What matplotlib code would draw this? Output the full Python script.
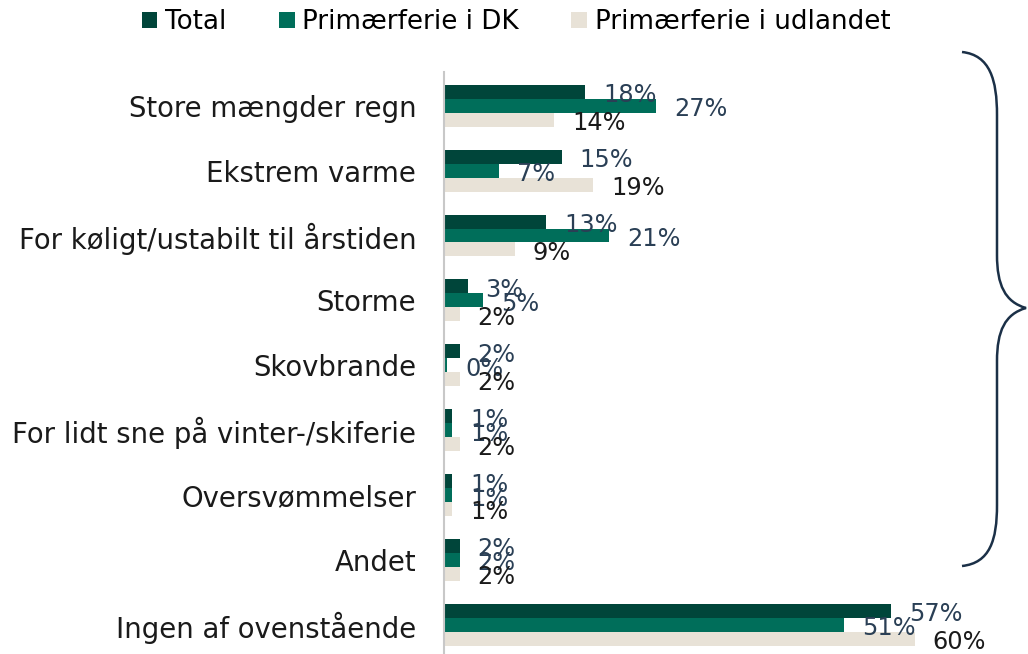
import numpy as np
import matplotlib.pyplot as plt
from matplotlib.path import Path
from matplotlib.patches import PathPatch, Patch

# Data
categories = ["Store mængder regn", "Ekstrem varme", "For køligt/ustabilt til årstiden",
              "Storme", "Skovbrande", "For lidt sne på vinter-/skiferie",
              "Oversvømmelser", "Andet", "Ingen af ovenstående"]
series_names = ["Total", "Primærferie i DK", "Primærferie i udlandet"]
total = [18, 15, 13, 3, 2, 1, 1, 2, 57]
dk = [27, 7, 21, 5, 0.4, 1, 1, 2, 51]
udland = [14, 19, 9, 2, 2, 2, 1, 2, 60]

colors = ["#00453A", "#006E5A", "#E8E2D7"]
label_colors = ["#2A3F55", "#2A3F55", "#1A1A1A"]

plt.rcParams['font.family'] = ['DejaVu Sans']

fig = plt.figure(figsize=(10.28, 6.54), dpi=100)
ax = fig.add_axes([444 / 1028, 0.0, 549 / 1028, 1 - 72 / 654])

y = np.arange(len(categories))
h = 0.215
for k, vals in enumerate([total, dk, udland]):
    pos = y + (k - 1) * h
    ax.barh(pos, vals, height=h, color=colors[k], edgecolor='none')
    for p, v in zip(pos, vals):
        ax.annotate(f"{round(v)}%", (v, p), xytext=(13, -2.5), textcoords='offset points',
                    ha='left', va='center', fontsize=17.3, color=label_colors[k])

ax.set_xlim(0, 70)
ax.set_ylim(8.45, -0.52)
ax.set_yticks(y)
ax.set_yticklabels(categories, fontsize=19.8, color="#1A1A1A")
ax.tick_params(axis='y', length=0, pad=20)
ax.set_xticks([])
for s in ['top', 'right', 'bottom']:
    ax.spines[s].set_visible(False)
ax.spines['left'].set_color("#C8C8C8")
ax.spines['left'].set_linewidth(1.5)

# legend
handles = [Patch(facecolor=c, edgecolor='none') for c in colors]
fig.legend(handles, series_names, loc='upper center', bbox_to_anchor=(0.502, 1.022),
           ncol=3, frameon=False, fontsize=18.8, handlelength=0.6, handleheight=0.6,
           handletextpad=0.3, columnspacing=2.0)

# brace on the right (pixel coords -> figure fraction)
W, H = 1028, 654
pts = [(962, 52), (990, 55), (997, 80), (997, 115),
       (997, 255),
       (997, 285), (1005, 302), (1026, 308),
       (1005, 314), (997, 331), (997, 361),
       (997, 505),
       (997, 540), (990, 563), (962, 566)]
codes = [Path.MOVETO, Path.CURVE4, Path.CURVE4, Path.CURVE4,
         Path.LINETO,
         Path.CURVE4, Path.CURVE4, Path.CURVE4,
         Path.CURVE4, Path.CURVE4, Path.CURVE4,
         Path.LINETO,
         Path.CURVE4, Path.CURVE4, Path.CURVE4]
verts = [(px / W, 1 - py / H) for px, py in pts]
brace = PathPatch(Path(verts, codes), transform=fig.transFigure, fill=False,
                  edgecolor="#1B3047", linewidth=1.8)
fig.patches.append(brace)

fig.savefig("out.png", dpi=100)
